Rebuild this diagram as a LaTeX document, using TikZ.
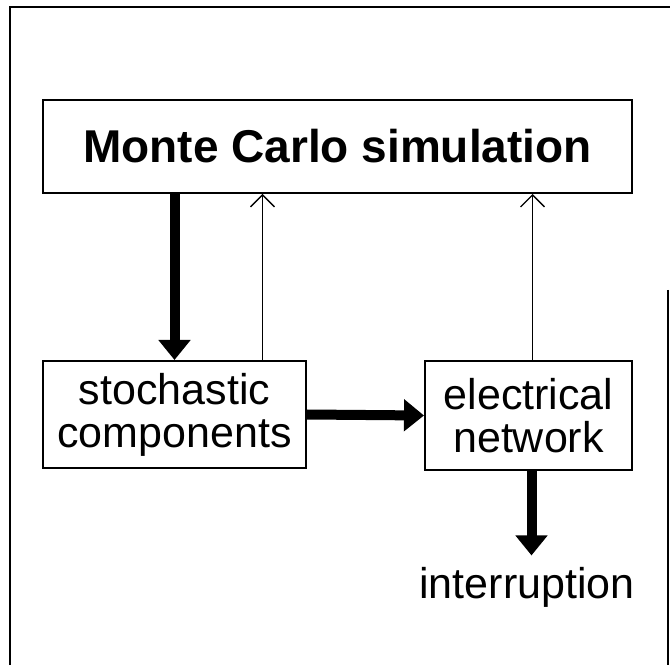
\documentclass[tikz,border=0pt]{standalone}
\usepackage{fontspec}
\setmainfont{Liberation Sans}
\usetikzlibrary{arrows.meta}
\newcommand{\pxsize}{0.5pt}
\newcommand{\plainfont}{\fontsize{21.5}{21.5}\selectfont}

\begin{document}
\begin{tikzpicture}[x=\pxsize,y=\pxsize,
	box/.style={draw, line width=1pt, inner sep=0pt, align=center, font=\plainfont},
	fat/.style={line width=5pt, -{Triangle[width=15.5pt,length=10pt]}},
	slim/.style={line width=0.7pt, -{Straight Barb[width=12pt,length=6pt]}}]
	\useasboundingbox (0,0) rectangle (670,665);
	\draw[line width=1pt] (10,0) -- (10,658) -- (670,658);
	\draw[line width=0.8pt] (668,375) -- (668,0);

	\node[box, minimum width=294.5pt, minimum height=46.5pt, font=\bfseries\fontsize{23}{27}\selectfont] (mc) at (337.5,518.5) {Monte Carlo simulation};
	\node[box, minimum width=131.5pt, minimum height=53.5pt] (stoch) at (174.5,250.5) {stochastic\\components};
	\node[box, minimum width=103.5pt, minimum height=54.5pt] (elec) at (528.5,249.5) {electrical\\network};
	\node[font=\plainfont, inner sep=0pt, inner ysep=5.5pt, anchor=base] (interr) at (527,67) {interruption};

	\draw[fat] (mc.south -| stoch.north) -- (stoch.north);
	\draw[slim] ([xshift=44pt]stoch.north) -- ([xshift=44pt]stoch.north |- mc.south);
	\draw[slim] ([xshift=2pt]elec.north) -- ([xshift=2pt]elec.north |- mc.south);
	\draw[fat] (stoch.east) -- (elec.west);
	\draw[fat] ([xshift=1.5pt]elec.south) -- ([xshift=1.5pt]elec.south |- interr.north);

	\end{tikzpicture}
\end{document}
